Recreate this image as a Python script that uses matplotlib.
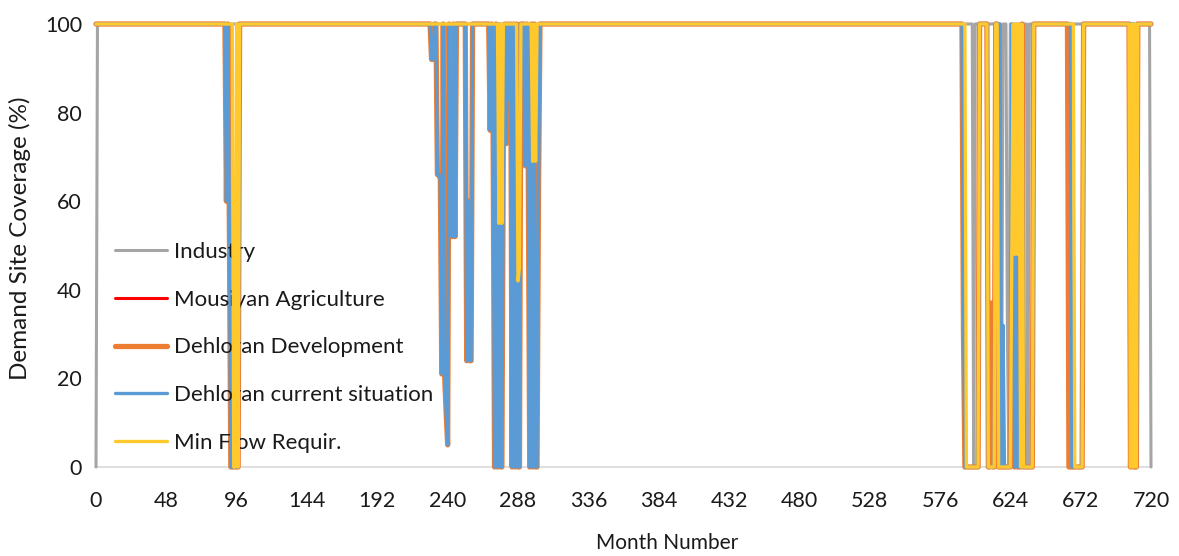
import matplotlib
matplotlib.use("Agg")
import matplotlib.pyplot as plt
import numpy as np

# ---------------- data ----------------
months = list(range(0, 721))          # month number 0..720
baseline = 100                          # coverage (%) outside the listed runs

# runs of (first month, last month, coverage %) where a series is below 100
industry_runs = [(0, 0, 0), (599, 599, 0), (618, 618, 0), (622, 622, 30),
                 (623, 623, 0), (636, 636, 0), (720, 720, 0)]

current_runs = [
    (89, 89, 60), (91, 91, 55), (92, 97, 0),
    (229, 230, 92),
    (233, 234, 66), (235, 235, 65), (236, 236, 21), (238, 238, 20),
    (239, 239, 12), (240, 240, 5), (242, 242, 59), (243, 243, 52), (245, 245, 52),
    (253, 253, 24), (254, 254, 60), (255, 256, 24),
    (269, 269, 76), (271, 271, 76), (272, 272, 0), (274, 274, 0), (276, 277, 0),
    (278, 278, 75), (280, 280, 73), (282, 282, 83), (284, 284, 0), (286, 286, 0),
    (288, 289, 0),
    (293, 293, 68), (295, 295, 68), (296, 296, 0), (298, 298, 0), (300, 301, 0),
    (302, 302, 62),
    (592, 592, 40), (593, 602, 0), (609, 613, 0),
    (618, 618, 0), (619, 619, 32), (620, 624, 0),
    (626, 626, 61), (627, 627, 0), (628, 628, 52), (629, 631, 0), (633, 639, 0),
    (666, 673, 0),
    (709, 709, 68), (710, 710, 0),
]

minflow_runs = [
    (94, 95, 0), (97, 97, 0),
    (275, 275, 55), (277, 277, 55), (288, 288, 42), (289, 289, 45),
    (298, 298, 69), (300, 300, 69),
    (594, 602, 0), (609, 613, 0), (616, 624, 0),
    (625, 625, 48), (627, 627, 48), (629, 629, 48), (631, 631, 0), (633, 639, 0),
    (668, 673, 0),
    (706, 706, 0), (708, 708, 0), (710, 710, 0),
]

development_runs = [
    (89, 89, 60), (91, 91, 55), (92, 97, 0),
    (229, 230, 92),
    (233, 234, 66), (235, 235, 65), (236, 236, 21), (238, 238, 20),
    (239, 239, 12), (240, 240, 5), (242, 242, 59), (243, 243, 52), (245, 245, 52),
    (253, 253, 24), (254, 254, 60), (255, 256, 24),
    (269, 269, 76), (271, 271, 76), (272, 272, 0), (274, 274, 0), (275, 275, 55),
    (276, 277, 0),
    (278, 278, 75), (280, 280, 73), (282, 282, 83), (284, 284, 0), (286, 286, 0),
    (288, 289, 0),
    (293, 293, 68), (295, 295, 68), (296, 296, 0), (298, 298, 0), (300, 301, 0),
    (302, 302, 62),
    (592, 592, 31), (593, 602, 0), (609, 610, 0), (611, 611, 37), (612, 613, 0),
    (616, 624, 0), (625, 625, 48), (626, 626, 61), (627, 627, 0), (628, 628, 52),
    (629, 631, 0), (633, 639, 0),
    (664, 673, 0),
    (706, 706, 0), (707, 707, 20), (708, 710, 0),
]

# Mousiyan Agriculture is hidden beneath Dehloran Development everywhere
mousiyan_runs = list(development_runs)

series_names = ["Industry", "Mousiyan Agriculture", "Dehloran Development",
                "Dehloran current situation", "Min Flow Requir."]
series_runs = [industry_runs, mousiyan_runs, development_runs,
               current_runs, minflow_runs]

x_ticks = [0, 48, 96, 144, 192, 240, 288, 336, 384, 432, 480, 528, 576,
           624, 672, 720]
y_ticks = [0, 20, 40, 60, 80, 100]


def build(runs):
    vals = np.full(len(months), float(baseline))
    for a, b, v in runs:
        vals[a:b + 1] = v
    return vals


# ---------------- styling ----------------
colors = ["#A5A5A5", "#FF0000", "#ED7D31", "#5B9BD5", "#FFC92E"]
widths = [2.2, 2.2, 3.8, 2.4, 2.4]
FONT = ["Lato", "DejaVu Sans"]
plt.rcParams["font.family"] = FONT
TXT = "#1a1a1a"

W, H = 1179, 556
fig = plt.figure(figsize=(W / 100, H / 100), dpi=100)
L, R, T, B = 96, 1151, 24, 467
ax = fig.add_axes([L / W, 1 - B / H, (R - L) / W, (B - T) / H])

for name, runs, c, lw, z in zip(series_names, series_runs, colors, widths,
                                range(5)):
    ax.plot(months, build(runs), color=c, lw=lw, label=name, zorder=2 + z,
            clip_on=False, solid_joinstyle="round", solid_capstyle="round")

ax.set_xlim(0, 720)
ax.set_ylim(0, 100)
ax.set_xticks(x_ticks)
ax.set_yticks(y_ticks)
for s in ["left", "top", "right"]:
    ax.spines[s].set_visible(False)
ax.spines["bottom"].set_color("#D9D9D9")
ax.spines["bottom"].set_linewidth(1.2)
ax.spines["bottom"].set_zorder(1)
ax.tick_params(axis="x", length=0, pad=17, labelsize=15.5, labelcolor=TXT)
ax.tick_params(axis="y", length=0, pad=10, labelsize=15.5, labelcolor=TXT)

fig.text(667 / W, 1 - 543 / H, "Month Number", ha="center", va="center",
         fontsize=15, color=TXT)
fig.text(20 / W, 1 - 238 / H, "Demand Site Coverage (%)", ha="center",
         va="center", rotation=90, fontsize=17.5, color=TXT)

leg = ax.legend(loc="upper left", bbox_to_anchor=(10 / (R - L), 1 - 209 / (B - T)),
                frameon=False, fontsize=16, handlelength=2.35,
                handletextpad=0.33, labelspacing=1.25, borderaxespad=0,
                labelcolor=TXT)

fig.savefig("out.png", dpi=100)
